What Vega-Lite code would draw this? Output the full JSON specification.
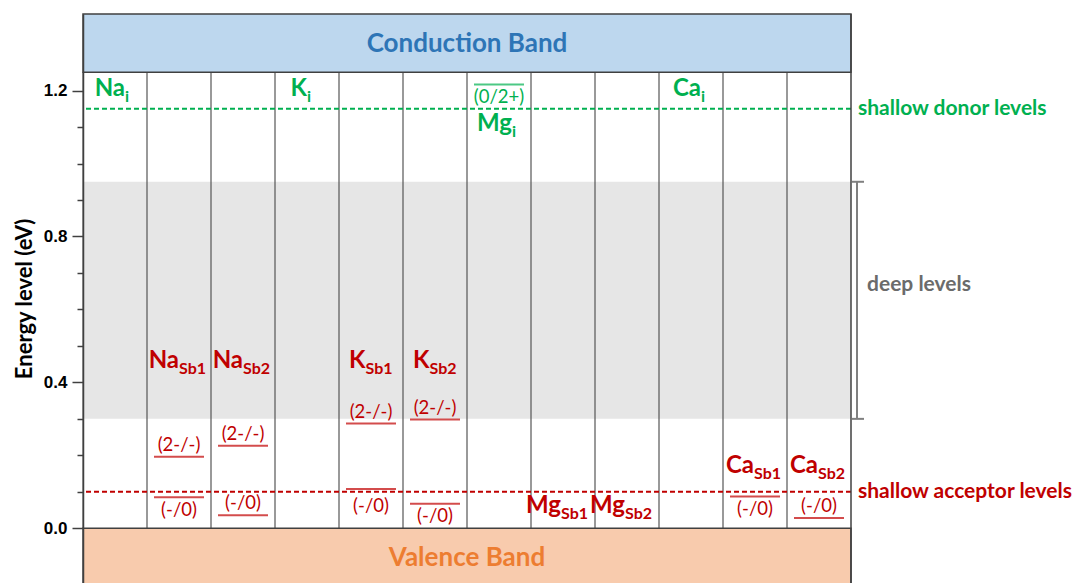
{
  "$schema": "https://vega.github.io/schema/vega-lite/v6.json",
  "width": 768,
  "height": 569,
  "autosize": {"type": "none"},
  "padding": {"left": 83, "top": 14, "right": 221, "bottom": 0},
  "background": "white",
  "config": {"view": {"stroke": null}, "font": "Lato", "text": {"font": "Lato"}},
  "datasets": {
    "defects": [
      {"defect": "Na_i", "el": "Na", "site": "i", "type": "donor"},
      {"defect": "NaSb1", "el": "Na", "site": "Sb1", "type": "acceptor"},
      {"defect": "NaSb2", "el": "Na", "site": "Sb2", "type": "acceptor"},
      {"defect": "K_i", "el": "K", "site": "i", "type": "donor"},
      {"defect": "KSb1", "el": "K", "site": "Sb1", "type": "acceptor"},
      {"defect": "KSb2", "el": "K", "site": "Sb2", "type": "acceptor"},
      {"defect": "Mg_i", "el": "Mg", "site": "i", "type": "donor"},
      {"defect": "MgSb1", "el": "Mg", "site": "Sb1", "type": "acceptor"},
      {"defect": "MgSb2", "el": "Mg", "site": "Sb2", "type": "acceptor"},
      {"defect": "Ca_i", "el": "Ca", "site": "i", "type": "donor"},
      {"defect": "CaSb1", "el": "Ca", "site": "Sb1", "type": "acceptor"},
      {"defect": "CaSb2", "el": "Ca", "site": "Sb2", "type": "acceptor"}
    ],
    "levels": [
      {"defect": "Mg_i", "transition": "(0/2+)", "energy": 1.217, "type": "donor"},
      {"defect": "NaSb1", "transition": "(2-/-)", "energy": 0.196, "type": "acceptor"},
      {"defect": "NaSb1", "transition": "(-/0)", "energy": 0.085, "type": "acceptor"},
      {"defect": "NaSb2", "transition": "(2-/-)", "energy": 0.226, "type": "acceptor"},
      {"defect": "NaSb2", "transition": "(-/0)", "energy": 0.036, "type": "acceptor"},
      {"defect": "KSb1", "transition": "(2-/-)", "energy": 0.287, "type": "acceptor"},
      {"defect": "KSb1", "transition": "(-/0)", "energy": 0.108, "type": "acceptor"},
      {"defect": "KSb2", "transition": "(2-/-)", "energy": 0.298, "type": "acceptor"},
      {"defect": "KSb2", "transition": "(-/0)", "energy": 0.067, "type": "acceptor"},
      {"defect": "CaSb1", "transition": "(-/0)", "energy": 0.087, "type": "acceptor"},
      {"defect": "CaSb2", "transition": "(-/0)", "energy": 0.028, "type": "acceptor"}
    ],
    "bands": [
      {"name": "Conduction Band", "lo": 1.25, "hi": 1.41},
      {"name": "Valence Band", "lo": -0.17, "hi": 0}
    ],
    "deep": [{"name": "deep levels", "lo": 0.3, "hi": 0.95}],
    "shallow": [
      {"name": "shallow donor levels", "energy": 1.15, "type": "donor"},
      {"name": "shallow acceptor levels", "energy": 0.1, "type": "acceptor"}
    ]
  },
  "layer": [
    {
      "data": {"name": "deep"},
      "mark": {"type": "rect", "fill": "#E6E6E6"},
      "encoding": {
        "x": {"value": 0},
        "x2": {"value": "width"},
        "y": {
          "field": "lo",
          "type": "quantitative",
          "scale": {"domain": [-0.15, 1.41], "nice": false, "zero": false},
          "axis": {
            "title": "Energy level (eV)",
            "titleFont": "Lato",
            "titleFontSize": 22,
            "titleFontWeight": "bold",
            "titleColor": "black",
            "titlePadding": 7,
            "values": [0, 0.1, 0.2, 0.3, 0.4, 0.5, 0.6, 0.7, 0.8, 0.9, 1.0, 1.1, 1.2],
            "labelExpr": "indexof([0, 0.4, 0.8, 1.2], datum.value) >= 0 ? format(datum.value, '.1f') : ''",
            "labelFont": "Liberation Sans",
            "labelFontWeight": "bold",
            "labelFontSize": 17,
            "labelColor": "black",
            "labelPadding": 5,
            "tickSize": {"condition": {"test": "indexof([0, 0.4, 0.8, 1.2], datum.value) >= 0", "value": 11}, "value": 6},
            "tickColor": "#404040",
            "tickWidth": 1.5,
            "domainColor": "#404040",
            "domainWidth": 1.5,
            "grid": false,
            "zindex": 1
          }
        },
        "y2": {"field": "hi"}
      }
    },
    {
      "data": {"name": "defects"},
      "mark": {"type": "rule", "stroke": "#555555", "strokeWidth": 1.2},
      "encoding": {
        "x": {
          "field": "defect",
          "type": "nominal",
          "bandPosition": 0,
          "scale": {
            "domain": ["Na_i", "NaSb1", "NaSb2", "K_i", "KSb1", "KSb2", "Mg_i", "MgSb1", "MgSb2", "Ca_i", "CaSb1", "CaSb2"],
            "paddingInner": 0,
            "paddingOuter": 0
          },
          "axis": null
        },
        "y": {"datum": 0},
        "y2": {"datum": 1.25}
      }
    },
    {
      "data": {"name": "bands"},
      "mark": {"type": "rect", "stroke": "#404040", "strokeWidth": 1.5},
      "encoding": {
        "x": {"value": 0},
        "x2": {"value": "width"},
        "y": {"field": "lo", "type": "quantitative"},
        "y2": {"field": "hi"},
        "fill": {
          "field": "name",
          "type": "nominal",
          "scale": {"domain": ["Conduction Band", "Valence Band"], "range": ["#BDD7EE", "#F8CBAD"]},
          "legend": null
        }
      }
    },
    {
      "data": {"name": "bands"},
      "mark": {"type": "text", "fontSize": 26, "fontWeight": "bold", "baseline": "middle", "dy": 30},
      "encoding": {
        "x": {"value": 384},
        "y": {"field": "hi", "type": "quantitative"},
        "text": {"field": "name"},
        "color": {
          "field": "name",
          "type": "nominal",
          "scale": {
            "domain": ["donor", "acceptor", "Conduction Band", "Valence Band"],
            "range": ["#00B050", "#C00000", "#2E75B6", "#ED7D31"]
          },
          "legend": null
        }
      }
    },
    {
      "data": {"name": "shallow"},
      "mark": {"type": "rule", "strokeWidth": 2, "strokeDash": [5, 3]},
      "encoding": {
        "y": {"field": "energy", "type": "quantitative"},
        "color": {"field": "type", "type": "nominal", "legend": null}
      }
    },
    {
      "data": {"name": "levels"},
      "mark": {"type": "tick", "thickness": 2, "size": 50, "orient": "horizontal"},
      "encoding": {
        "x": {"field": "defect", "type": "nominal"},
        "y": {"field": "energy", "type": "quantitative"},
        "color": {"field": "type", "type": "nominal", "legend": null}
      }
    },
    {
      "data": {"name": "levels"},
      "transform": [{"filter": "!(datum.transition != '(2-/-)' && indexof(['Mg_i', 'NaSb1', 'KSb1', 'KSb2', 'CaSb1'], datum.defect) >= 0)"}],
      "mark": {"type": "text", "fontSize": 18.5, "baseline": "alphabetic", "dy": -6},
      "encoding": {
        "x": {"field": "defect", "type": "nominal"},
        "y": {"field": "energy", "type": "quantitative"},
        "text": {"field": "transition"},
        "color": {"field": "type", "type": "nominal", "legend": null}
      }
    },
    {
      "data": {"name": "levels"},
      "transform": [{"filter": "datum.transition != '(2-/-)' && indexof(['Mg_i', 'NaSb1', 'KSb2', 'CaSb1'], datum.defect) >= 0"}],
      "mark": {"type": "text", "fontSize": 18.5, "baseline": "alphabetic", "dy": 18.5},
      "encoding": {
        "x": {"field": "defect", "type": "nominal"},
        "y": {"field": "energy", "type": "quantitative"},
        "text": {"field": "transition"},
        "color": {"field": "type", "type": "nominal", "legend": null}
      }
    },
    {
      "data": {"name": "levels"},
      "transform": [{"filter": "datum.transition == '(-/0)' && datum.defect == 'KSb1'"}],
      "mark": {"type": "text", "fontSize": 18.5, "baseline": "alphabetic", "dy": 23.5},
      "encoding": {
        "x": {"field": "defect", "type": "nominal"},
        "y": {"field": "energy", "type": "quantitative"},
        "text": {"field": "transition"},
        "color": {"field": "type", "type": "nominal", "legend": null}
      }
    },
    {
      "data": {"name": "defects"},
      "transform": [{"filter": {"field": "defect", "oneOf": ["Na_i", "Ca_i"]}}],
      "encoding": {
        "x": {"field": "defect", "type": "nominal"},
        "y": {"datum": 1.184},
        "color": {"field": "type", "type": "nominal", "legend": null}
      },
      "layer": [
        {"mark": {"type": "text", "align": "right", "baseline": "alphabetic", "dx": 10, "fontSize": 24, "fontWeight": "bold"}, "encoding": {"text": {"field": "el"}}},
        {"mark": {"type": "text", "align": "left", "baseline": "alphabetic", "dx": 10, "dy": 6, "fontSize": 16, "fontWeight": "bold"}, "encoding": {"text": {"field": "site"}}}
      ]
    },
    {
      "data": {"name": "defects"},
      "transform": [{"filter": {"field": "defect", "oneOf": ["K_i"]}}],
      "encoding": {
        "x": {"field": "defect", "type": "nominal"},
        "y": {"datum": 1.184},
        "color": {"field": "type", "type": "nominal", "legend": null}
      },
      "layer": [
        {"mark": {"type": "text", "align": "right", "baseline": "alphabetic", "dx": 0, "fontSize": 24, "fontWeight": "bold"}, "encoding": {"text": {"field": "el"}}},
        {"mark": {"type": "text", "align": "left", "baseline": "alphabetic", "dx": 0, "dy": 6, "fontSize": 16, "fontWeight": "bold"}, "encoding": {"text": {"field": "site"}}}
      ]
    },
    {
      "data": {"name": "defects"},
      "transform": [{"filter": {"field": "defect", "oneOf": ["Mg_i"]}}],
      "encoding": {
        "x": {"field": "defect", "type": "nominal"},
        "y": {"datum": 1.088},
        "color": {"field": "type", "type": "nominal", "legend": null}
      },
      "layer": [
        {"mark": {"type": "text", "align": "right", "baseline": "alphabetic", "dx": 13, "fontSize": 24, "fontWeight": "bold"}, "encoding": {"text": {"field": "el"}}},
        {"mark": {"type": "text", "align": "left", "baseline": "alphabetic", "dx": 13, "dy": 6, "fontSize": 16, "fontWeight": "bold"}, "encoding": {"text": {"field": "site"}}}
      ]
    },
    {
      "data": {"name": "defects"},
      "transform": [{"filter": {"field": "defect", "oneOf": ["NaSb1", "NaSb2"]}}],
      "encoding": {
        "x": {"field": "defect", "type": "nominal"},
        "y": {"datum": 0.439},
        "color": {"field": "type", "type": "nominal", "legend": null}
      },
      "layer": [
        {"mark": {"type": "text", "align": "right", "baseline": "alphabetic", "dx": 0, "fontSize": 24, "fontWeight": "bold"}, "encoding": {"text": {"field": "el"}}},
        {"mark": {"type": "text", "align": "left", "baseline": "alphabetic", "dx": 0, "dy": 6, "fontSize": 16, "fontWeight": "bold"}, "encoding": {"text": {"field": "site"}}}
      ]
    },
    {
      "data": {"name": "defects"},
      "transform": [{"filter": {"field": "defect", "oneOf": ["KSb1", "KSb2"]}}],
      "encoding": {
        "x": {"field": "defect", "type": "nominal"},
        "y": {"datum": 0.439},
        "color": {"field": "type", "type": "nominal", "legend": null}
      },
      "layer": [
        {"mark": {"type": "text", "align": "right", "baseline": "alphabetic", "dx": -5.5, "fontSize": 24, "fontWeight": "bold"}, "encoding": {"text": {"field": "el"}}},
        {"mark": {"type": "text", "align": "left", "baseline": "alphabetic", "dx": -5.5, "dy": 6, "fontSize": 16, "fontWeight": "bold"}, "encoding": {"text": {"field": "site"}}}
      ]
    },
    {
      "data": {"name": "defects"},
      "transform": [{"filter": {"field": "defect", "oneOf": ["MgSb1", "MgSb2"]}}],
      "encoding": {
        "x": {"field": "defect", "type": "nominal"},
        "y": {"datum": 0.041},
        "color": {"field": "type", "type": "nominal", "legend": null}
      },
      "layer": [
        {"mark": {"type": "text", "align": "right", "baseline": "alphabetic", "dx": -2, "fontSize": 24, "fontWeight": "bold"}, "encoding": {"text": {"field": "el"}}},
        {"mark": {"type": "text", "align": "left", "baseline": "alphabetic", "dx": -2, "dy": 6, "fontSize": 16, "fontWeight": "bold"}, "encoding": {"text": {"field": "site"}}}
      ]
    },
    {
      "data": {"name": "defects"},
      "transform": [{"filter": {"field": "defect", "oneOf": ["CaSb1", "CaSb2"]}}],
      "encoding": {
        "x": {"field": "defect", "type": "nominal"},
        "y": {"datum": 0.151},
        "color": {"field": "type", "type": "nominal", "legend": null}
      },
      "layer": [
        {"mark": {"type": "text", "align": "right", "baseline": "alphabetic", "dx": -1, "fontSize": 24, "fontWeight": "bold"}, "encoding": {"text": {"field": "el"}}},
        {"mark": {"type": "text", "align": "left", "baseline": "alphabetic", "dx": -1, "dy": 6, "fontSize": 16, "fontWeight": "bold"}, "encoding": {"text": {"field": "site"}}}
      ]
    },
    {
      "data": {"name": "shallow"},
      "mark": {"type": "text", "align": "left", "baseline": "middle", "dx": 7, "fontSize": 21, "fontWeight": "bold"},
      "encoding": {
        "x": {"value": "width"},
        "y": {"field": "energy", "type": "quantitative"},
        "text": {"field": "name"},
        "color": {"field": "type", "type": "nominal", "legend": null}
      }
    },
    {
      "data": {"name": "deep"},
      "mark": {"type": "rule", "stroke": "#808080", "strokeWidth": 2, "xOffset": 6},
      "encoding": {
        "x": {"value": "width"},
        "y": {"field": "lo", "type": "quantitative"},
        "y2": {"field": "hi"}
      }
    },
    {
      "data": {"name": "deep"},
      "mark": {"type": "rule", "stroke": "#808080", "strokeWidth": 2, "xOffset": 1, "x2Offset": 13},
      "encoding": {
        "x": {"value": "width"},
        "x2": {"value": "width"},
        "y": {"field": "lo", "type": "quantitative"}
      }
    },
    {
      "data": {"name": "deep"},
      "mark": {"type": "rule", "stroke": "#808080", "strokeWidth": 2, "xOffset": 1, "x2Offset": 13},
      "encoding": {
        "x": {"value": "width"},
        "x2": {"value": "width"},
        "y": {"field": "hi", "type": "quantitative"}
      }
    },
    {
      "data": {"name": "deep"},
      "mark": {"type": "text", "align": "left", "baseline": "middle", "dx": 16, "fontSize": 21, "fontWeight": "bold", "color": "#6b6b6b"},
      "encoding": {
        "x": {"value": "width"},
        "y": {"datum": 0.668},
        "text": {"field": "name"}
      }
    },
    {
      "data": {"name": "deep"},
      "mark": {"type": "rule", "stroke": "#404040", "strokeWidth": 1.5},
      "encoding": {
        "x": {"value": "width"}
      }
    }
  ]
}
